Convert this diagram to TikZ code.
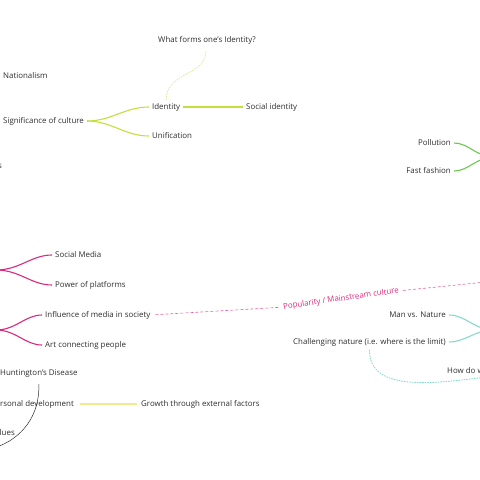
\documentclass[tikz,border=0pt]{standalone}
\usepackage{fontspec}
\setmainfont{Open Sans}
\definecolor{tx}{HTML}{2E2E2E}
\definecolor{lime}{HTML}{C4DE3C}
\definecolor{limedot}{HTML}{E6E6A0}
\definecolor{mag}{HTML}{DC2A7C}
\definecolor{grn}{HTML}{6CC94E}
\definecolor{teal}{HTML}{86DACB}
\definecolor{yel}{HTML}{F4E98C}
\tikzset{
  txt/.style={font=\fontsize{7.9}{9}\selectfont, text=tx, inner sep=0pt},
  branch/.style={line width=1.1pt, shorten <=3pt, shorten >=3pt},
  dotline/.style={line width=0.9pt, dash pattern=on 1pt off 1.6pt, line cap=round},
}
\begin{document}
\begin{tikzpicture}[x=1pt,y=-1pt]
\useasboundingbox (0,0) rectangle (480,480);
\clip (0,0) rectangle (480,480);
% culture branch
\node[txt] (q) at (207,40) {What forms one's Identity?};
\node[txt, anchor=west] (nat) at (3,76) {Nationalism};
\node[txt, anchor=west] (sig) at (3,121) {Significance of culture};
\node[txt, anchor=west] (ident) at (152,107) {Identity};
\node[txt, anchor=west] (soc) at (246,107) {Social identity};
\node[txt, anchor=west] (unif) at (152,136) {Unification};
\node[txt, anchor=east] (cut) at (2,166) {s};
\draw[lime, branch] (sig.east) to[out=0,in=180] (ident.west);
\draw[lime, branch] (sig.east) to[out=0,in=180] (unif.west);
\draw[lime, branch] (ident.east) -- (soc.west);
\coordinate (qa) at (206,51);
\draw[limedot, dotline] (ident.north) ++(0,-3) .. controls +(0,-28) and +(0,25) .. (qa);
% environment branch
\node[txt, anchor=east] (poll) at (451,143) {Pollution};
\node[txt, anchor=east] (fast) at (451,171) {Fast fashion};
\coordinate (env) at (494,157);
\draw[grn, branch, shorten >=0pt] (poll.east) to[out=0,in=180] (env);
\draw[grn, branch, shorten >=0pt] (fast.east) to[out=0,in=180] (env);
% media branch
\node[txt, anchor=west] (sm) at (55,255) {Social Media};
\node[txt, anchor=west] (pp) at (55,285) {Power of platforms};
\node[txt, anchor=west] (infl) at (45,315) {Influence of media in society};
\node[txt, anchor=west] (art) at (45,345) {Art connecting people};
\coordinate (m1) at (-4,270);
\coordinate (m2) at (-4,330);
\draw[mag, branch, shorten <=0pt] (m1) to[out=0,in=180] (sm.west);
\draw[mag, branch, shorten <=0pt] (m1) to[out=0,in=180] (pp.west);
\draw[mag, branch, shorten <=0pt] (m2) to[out=0,in=180] (infl.west);
\draw[mag, branch, shorten <=0pt] (m2) to[out=0,in=180] (art.west);
\node[txt, text=mag, rotate=8] (pop) at (341,299) {Popularity / Mainstream culture};
\coordinate (m3) at (486,282);
\draw[mag!75, line width=0.6pt, dash pattern=on 3pt off 2pt, shorten <=5pt, shorten >=5pt] (infl.east) -- (pop.west);
\draw[mag!75, line width=0.6pt, dash pattern=on 3pt off 2pt, shorten <=4pt] (pop.east) -- (m3);
% nature branch
\node[txt, anchor=east] (man) at (446,315) {Man vs. Nature};
\node[txt, anchor=east] (chal) at (446,342) {Challenging nature (i.e. where is the limit)};
\node[txt, anchor=west] (how) at (447,371) {How do we};
\coordinate (t1) at (494,330);
\draw[teal, branch, shorten >=0pt] (man.east) to[out=0,in=180] (t1);
\draw[teal, branch, shorten >=0pt] (chal.east) to[out=0,in=180] (t1);
\coordinate (t2) at (486,377);
\draw[teal, dotline] (chal.south) ++(0,4) .. controls +(0,40) and +(-60,8) .. (t2);
% personal branch
\node[txt, anchor=west] (hd) at (0,374) {Huntington's Disease};
\node[txt, anchor=east] (pd) at (74,404) {Personal development};
\node[txt, anchor=west] (gr) at (141,404) {Growth through external factors};
\node[txt, anchor=east] (val) at (15,433) {Values};
\draw[yel, line width=1.5pt, shorten <=6pt, shorten >=4pt] (pd.east) -- (gr.west);
\coordinate (harc) at (-6,448);
\draw[tx, line width=0.5pt] (hd.south) ++(0,6) to[out=-88,in=18] (harc);
\end{tikzpicture}
\end{document}
